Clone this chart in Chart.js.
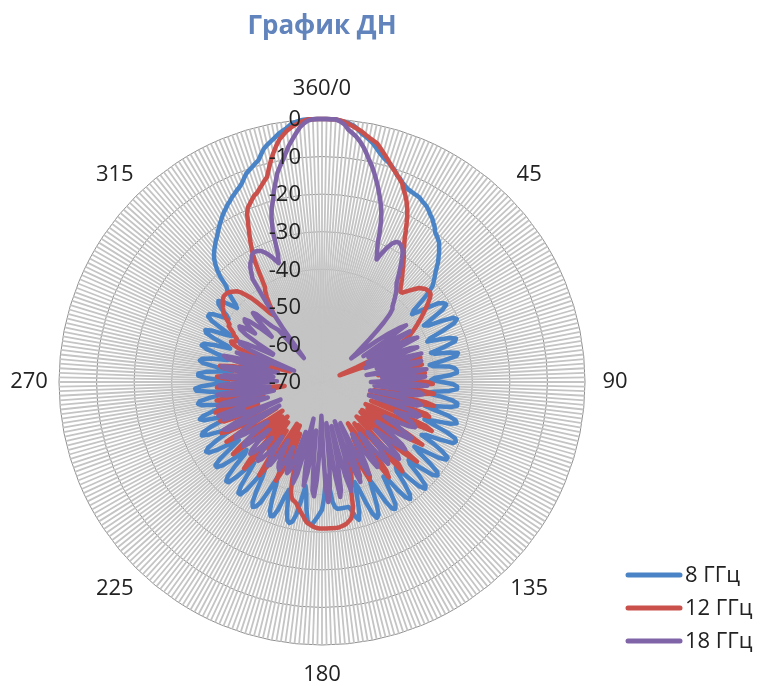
<!DOCTYPE html>
<html><head><meta charset="utf-8">
<script src="https://cdn.jsdelivr.net/npm/chart.js@4/dist/chart.umd.min.js"></script>
<style>html,body{margin:0;padding:0;background:#fff}</style>
</head><body>
<canvas id="c" width="760" height="686"></canvas>
<script>
const chartTitle = 'График ДН';
const seriesNames = ['8 ГГц', '12 ГГц', '18 ГГц'];
const angleLabels = Array.from({length: 360}, (_, i) => i === 0 ? '360/0' : String(i));
const shownAngles = [0, 45, 90, 135, 180, 225, 270, 315];
const tickValues = [0, -10, -20, -30, -40, -50, -60, -70];

const gain8 = [
0,0,0,0,-0.3,-0.5,-0.8,-1.2,-2,-3,
-3.6,-4.3,-5,-6,-7,-7.8,-8.5,-9,-9.7,-10.5,
-11.5,-12,-12.8,-13.3,-13.8,-14,-14.2,-14.3,-14.5,-15,
-15.3,-15.7,-16.3,-17,-17.5,-18.3,-19,-20,-20.5,-21,
-21.5,-22.5,-23.4,-24.5,-25.5,-26.8,-28,-29,-30,-31,
-33,-36,-39,-40,-38,-35,-32.5,-31.5,-31,-32.5,
-36,-39,-38,-34,-31,-30.4,-31.5,-35,-39,-40,
-37,-34,-32.5,-33,-36,-40,-39,-35,-33,-33.5,
-37,-41,-40,-36,-34.5,-34,-34,-36,-40,-41,
-38,-35,-34,-34,-36,-40,-42,-38,-35,-33.5,
-33.5,-35,-39,-42,-39,-35,-33,-32.5,-34,-38,
-41,-38,-34,-31.5,-31,-31.5,-35,-39,-40,-36,
-33,-31,-31,-33,-37,-40,-38,-34,-31,-30.5,
-31.5,-35,-39,-38,-34,-31,-30.5,-32,-36,-40,
-39,-35,-32,-31,-32,-35,-39,-40,-36,-32,
-31,-31.5,-34,-38,-41,-38,-34,-31.5,-31,-32.5,
-36,-40,-42,-38,-34,-32,-33,-35,-36,-36,
-36,-36,-36,-36,-36.5,-38,-42,-45,-43,-39,
-36,-35,-34,-33,-32,-32,-33,-36,-40,-42,
-38,-34,-32,-31.5,-32,-34,-37,-40,-38,-34,
-32,-31.8,-33,-36,-40,-42,-38,-34,-32.5,-32,
-33,-36,-40,-42,-39,-35,-33,-33,-35,-39,
-42,-40,-36,-33.5,-33.3,-34.5,-38,-42,-43,-39,
-35.5,-34,-34,-36,-40,-43,-41,-37,-34.5,-34,
-35,-38,-42,-44,-40,-37,-35,-35.5,-38,-42,
-44,-41,-37,-36,-37,-40,-44,-45,-41,-37.5,
-36.5,-37,-40,-44,-45,-40,-36.5,-36.2,-38,-42,
-45,-43,-39,-37,-37,-39,-43,-46,-42,-38,
-37,-37.5,-40,-44,-45,-41,-38,-36.5,-37,-40,
-44,-43,-39,-36.5,-36,-37.5,-41,-43,-40,-36.5,
-35,-35,-36,-38,-40,-39,-37,-35.5,-35,-36,
-38,-40,-39,-37,-35,-34,-31,-29,-27.5,-26.2,
-25.3,-24.5,-23.8,-23,-22.4,-21.6,-20.8,-20,-19.3,-18.5,
-17.8,-17.2,-16.5,-16,-15.3,-14.8,-14.2,-13.7,-13,-12,
-11,-10.4,-9.8,-9.2,-8.6,-7.3,-6,-5.2,-4.5,-3.8,
-3,-2.4,-1.8,-1,-0.5,-0.2,0,0,0,0
];

const gain12 = [
0,0,0,0,-0.2,-0.5,-1,-1.5,-2,-2.5,
-3.2,-3.8,-4.3,-4.8,-5.8,-6.8,-7.8,-8.8,-9.8,-10.6,
-11.4,-12.2,-13,-14.4,-15.5,-16.8,-18.3,-20,-22,-24,
-26,-27.5,-29,-30,-31.2,-32.3,-33.5,-34.5,-35.5,-36.5,
-37.5,-38.2,-38,-37,-36,-35,-34,-33.5,-33,-32.8,
-32.7,-32.8,-33.5,-34.5,-35.5,-36.5,-37.5,-38.5,-39.5,-40.5,
-41.5,-42.5,-43.5,-45,-47,-50,-55,-60,-64,-65,
-60,-55,-52,-48,-53,-46,-43,-49,-54,-47,
-43,-45,-51,-55,-47,-42.5,-44,-50,-54,-46,
-42,-40.5,-46,-53,-49,-43,-40,-44,-51,-56,
-50,-42,-39.5,-45,-53,-57,-48,-41,-40,-46,
-53,-56,-47,-40,-38,-45,-55,-57,-50,-53,
-56,-44,-38.5,-42,-54,-57,-51,-54,-57,-47,
-37,-41,-52,-56,-53,-57,-49,-40,-38,-47,
-55,-52,-56,-50,-41,-39,-46,-55,-57,-52,
-49,-53,-48,-42,-41,-45,-51,-47,-43,-46,
-50,-47,-45,-43,-42,-40,-36,-34,-32.8,-32.3,
-31.8,-31.5,-31.3,-31.1,-31,-31,-31,-31,-31,-31,
-31,-31,-31.1,-31.3,-31.6,-32,-32.3,-33,-34,-34.7,
-35.5,-36.2,-37,-37.4,-37.7,-38.5,-40,-43,-47,-50,
-50,-46,-49,-55,-44,-41,-48,-57,-51,-47,
-52,-57,-48,-43,-40,-46,-54,-49,-47,-52,
-56,-45,-39,-42,-55,-57,-51,-48,-53,-56,
-46,-39.5,-43,-54,-57,-52,-48,-44,-40,-47,
-56,-49,-42,-40,-44,-51,-54,-48,-42,-41,
-45,-52,-50,-44,-40.5,-42,-48,-54,-51,-44,
-41.5,-45,-52,-58,-60,-54,-47,-42,-43,-49,
-55,-50,-44,-42,-46,-53,-56,-49,-43.5,-42.5,
-46,-52,-55,-50,-45,-47,-53,-58,-61,-57,
-56,-50,-46,-44,-43.5,-44.5,-45,-44.5,-43.5,-43,
-42,-41,-41,-40,-39,-38,-37.5,-37,-36.5,-36,
-35.6,-35.3,-35.3,-35.4,-35.6,-36,-36.5,-37,-38,-39.5,
-41,-43,-45,-47,-48,-47,-45,-43,-41.5,-40.5,
-37,-33,-30.3,-28,-25.8,-23.5,-21,-19.5,-18.8,-18,
-17.2,-16.8,-16,-15.2,-14.3,-13.5,-11.5,-9.5,-7.7,-6,
-4.5,-3.5,-2.5,-1.8,-1.2,-0.7,-0.3,0,0,0
];

const gain18 = [
0,0,0,0,-0.5,-1.2,-2.5,-3.3,-4.1,-5.2,
-6.5,-8,-9.6,-11,-12.6,-14.3,-16,-17.8,-19.6,-21.5,
-24,-27,-30.5,-32.5,-34.3,-32,-30,-28.5,-27.8,-27.6,
-28,-28.5,-29.5,-31,-32.5,-34,-35.5,-37,-37.8,-38.5,
-39.5,-40.5,-41.5,-42.5,-43,-44.5,-47,-50,-53,-56,
-58,-60,-57,-52,-48,-45,-43,-50,-57,-49,
-43,-48,-56,-52,-44,-42,-49,-57,-50,-45,
-43,-51,-58,-48,-42.5,-47,-55,-50,-43,-44,
-52,-58,-47,-42,-46,-54,-49,-42.5,-45,-53,
-57,-46,-42,-48,-56,-51,-44,-43,-44.5,-50,
-57,-50,-44,-43,-44,-50,-57,-51,-44,-42.5,
-43,-46,-49,-47,-44,-43,-42.5,-44,-48,-51,
-48,-45,-42,-42,-45,-49,-52,-47,-43,-41.5,
-44,-48,-51,-46,-42,-41,-44,-49,-52,-47,
-43,-42,-45,-50,-53,-48,-44,-43,-46,-50,
-54,-49,-45,-42.5,-46,-52,-58,-52,-44,-41.5,
-45,-53,-59,-50,-43,-40,-44,-52,-58,-48,
-41,-39,-45,-54,-59,-47,-40,-38,-42,-51,
-58,-61,-52,-44,-39.5,-41,-49,-57,-55,-46,
-42,-47,-55,-60,-52,-44.5,-42,-48,-56,-51,
-45,-44,-45,-48,-51,-47,-44,-44.5,-45.5,-49,
-52,-47,-44,-43.5,-45,-48,-52,-47,-44,-43,
-43.5,-46,-50,-47,-44,-43,-44,-47,-51,-48,
-44.5,-43,-44,-47,-52,-49,-45,-42.5,-43,-47,
-53,-57,-48,-42,-41,-45,-53,-58,-48,-42,
-48,-42,-41,-47,-55,-53,-45,-41.5,-43,-51,
-57,-52,-44,-42,-48,-56,-53,-45,-42.5,-46,
-54,-58,-49,-43,-44,-52,-57,-50,-43.5,-43,
-49,-56,-58,-50,-44,-43,-48,-55,-53,-46,
-51,-58,-62,-56,-49,-46,-45.5,-48,-52,-55,
-55,-50,-46,-44,-43.5,-45,-48,-46,-44,-43.5,
-45,-48,-52,-50,-46,-44,-45,-48,-50,-51,
-52,-57,-60,-62,-52,-44,-37,-35.5,-34,-33,
-32.5,-31.5,-31,-31,-31.2,-31.5,-32.2,-33,-34,-35.2,
-36.3,-34,-27.5,-24,-21.5,-19.8,-17.3,-15.2,-13,-11.5,
-10,-8.3,-6.5,-5,-3.5,-2,-1,-0.3,0,0
];

const seriesColors = ['#4A84C6', '#C9504B', '#8064A8'];
const textColor = '#222222';
const labelFont = '22px "Open Sans", "Liberation Sans", sans-serif';

const overlay = {
  id: 'overlay',
  afterDatasetsDraw(chart) {
    const r = chart.scales.r;
    const ctx = chart.ctx;
    ctx.save();
    ctx.font = labelFont;
    ctx.fillStyle = textColor;
    ctx.textBaseline = 'middle';
    ctx.textAlign = 'right';
    tickValues.forEach(v => {
      const d = r.getDistanceFromCenterForValue(v);
      ctx.fillText(String(v), r.xCenter - 21, r.yCenter - d + 1);
    });
    ctx.textAlign = 'center';
    shownAngles.forEach(i => {
      const p = r.getPointPosition(i, r.drawingArea + 30);
      ctx.fillText(angleLabels[i], p.x, p.y);
    });
    ctx.textAlign = 'left';
    chart.data.datasets.forEach((ds, k) => {
      const y = 575 + k * 33;
      ctx.strokeStyle = ds.borderColor;
      ctx.lineWidth = 5;
      ctx.lineCap = 'round';
      ctx.beginPath();
      ctx.moveTo(628, y);
      ctx.lineTo(680, y);
      ctx.stroke();
      ctx.fillStyle = textColor;
      ctx.fillText(ds.label, 685, y + 1);
    });
    ctx.restore();
  }
};

const series = [gain8, gain12, gain18];
new Chart(document.getElementById('c'), {
  type: 'radar',
  data: {
    labels: angleLabels,
    datasets: series.map((vals, k) => ({
      label: seriesNames[k],
      data: vals,
      borderColor: seriesColors[k],
      backgroundColor: 'transparent',
      borderWidth: 4.5,
      borderJoinStyle: 'round',
      borderCapStyle: 'round',
      pointRadius: 0,
      fill: false,
      tension: 0,
      order: 3 - k
    }))
  },
  options: {
    responsive: false,
    animation: false,
    layout: { padding: { left: 59, right: 175, top: 0, bottom: 41 } },
    plugins: {
      legend: { display: false },
      tooltip: { enabled: false },
      title: {
        display: true,
        text: chartTitle,
        color: '#6284BD',
        font: { family: '"Open Sans", sans-serif', size: 26, weight: 'bold' },
        padding: { top: 11, bottom: 76.8 }
      }
    },
    scales: {
      r: {
        min: -70,
        max: 0,
        ticks: { display: false, stepSize: 10 },
        pointLabels: { display: false },
        grid: { circular: true, color: '#8E8E8E', lineWidth: 1 },
        angleLines: { display: true, color: '#C4C4C4', lineWidth: 1.8 }
      }
    }
  },
  plugins: [overlay]
});
</script>
</body></html>
